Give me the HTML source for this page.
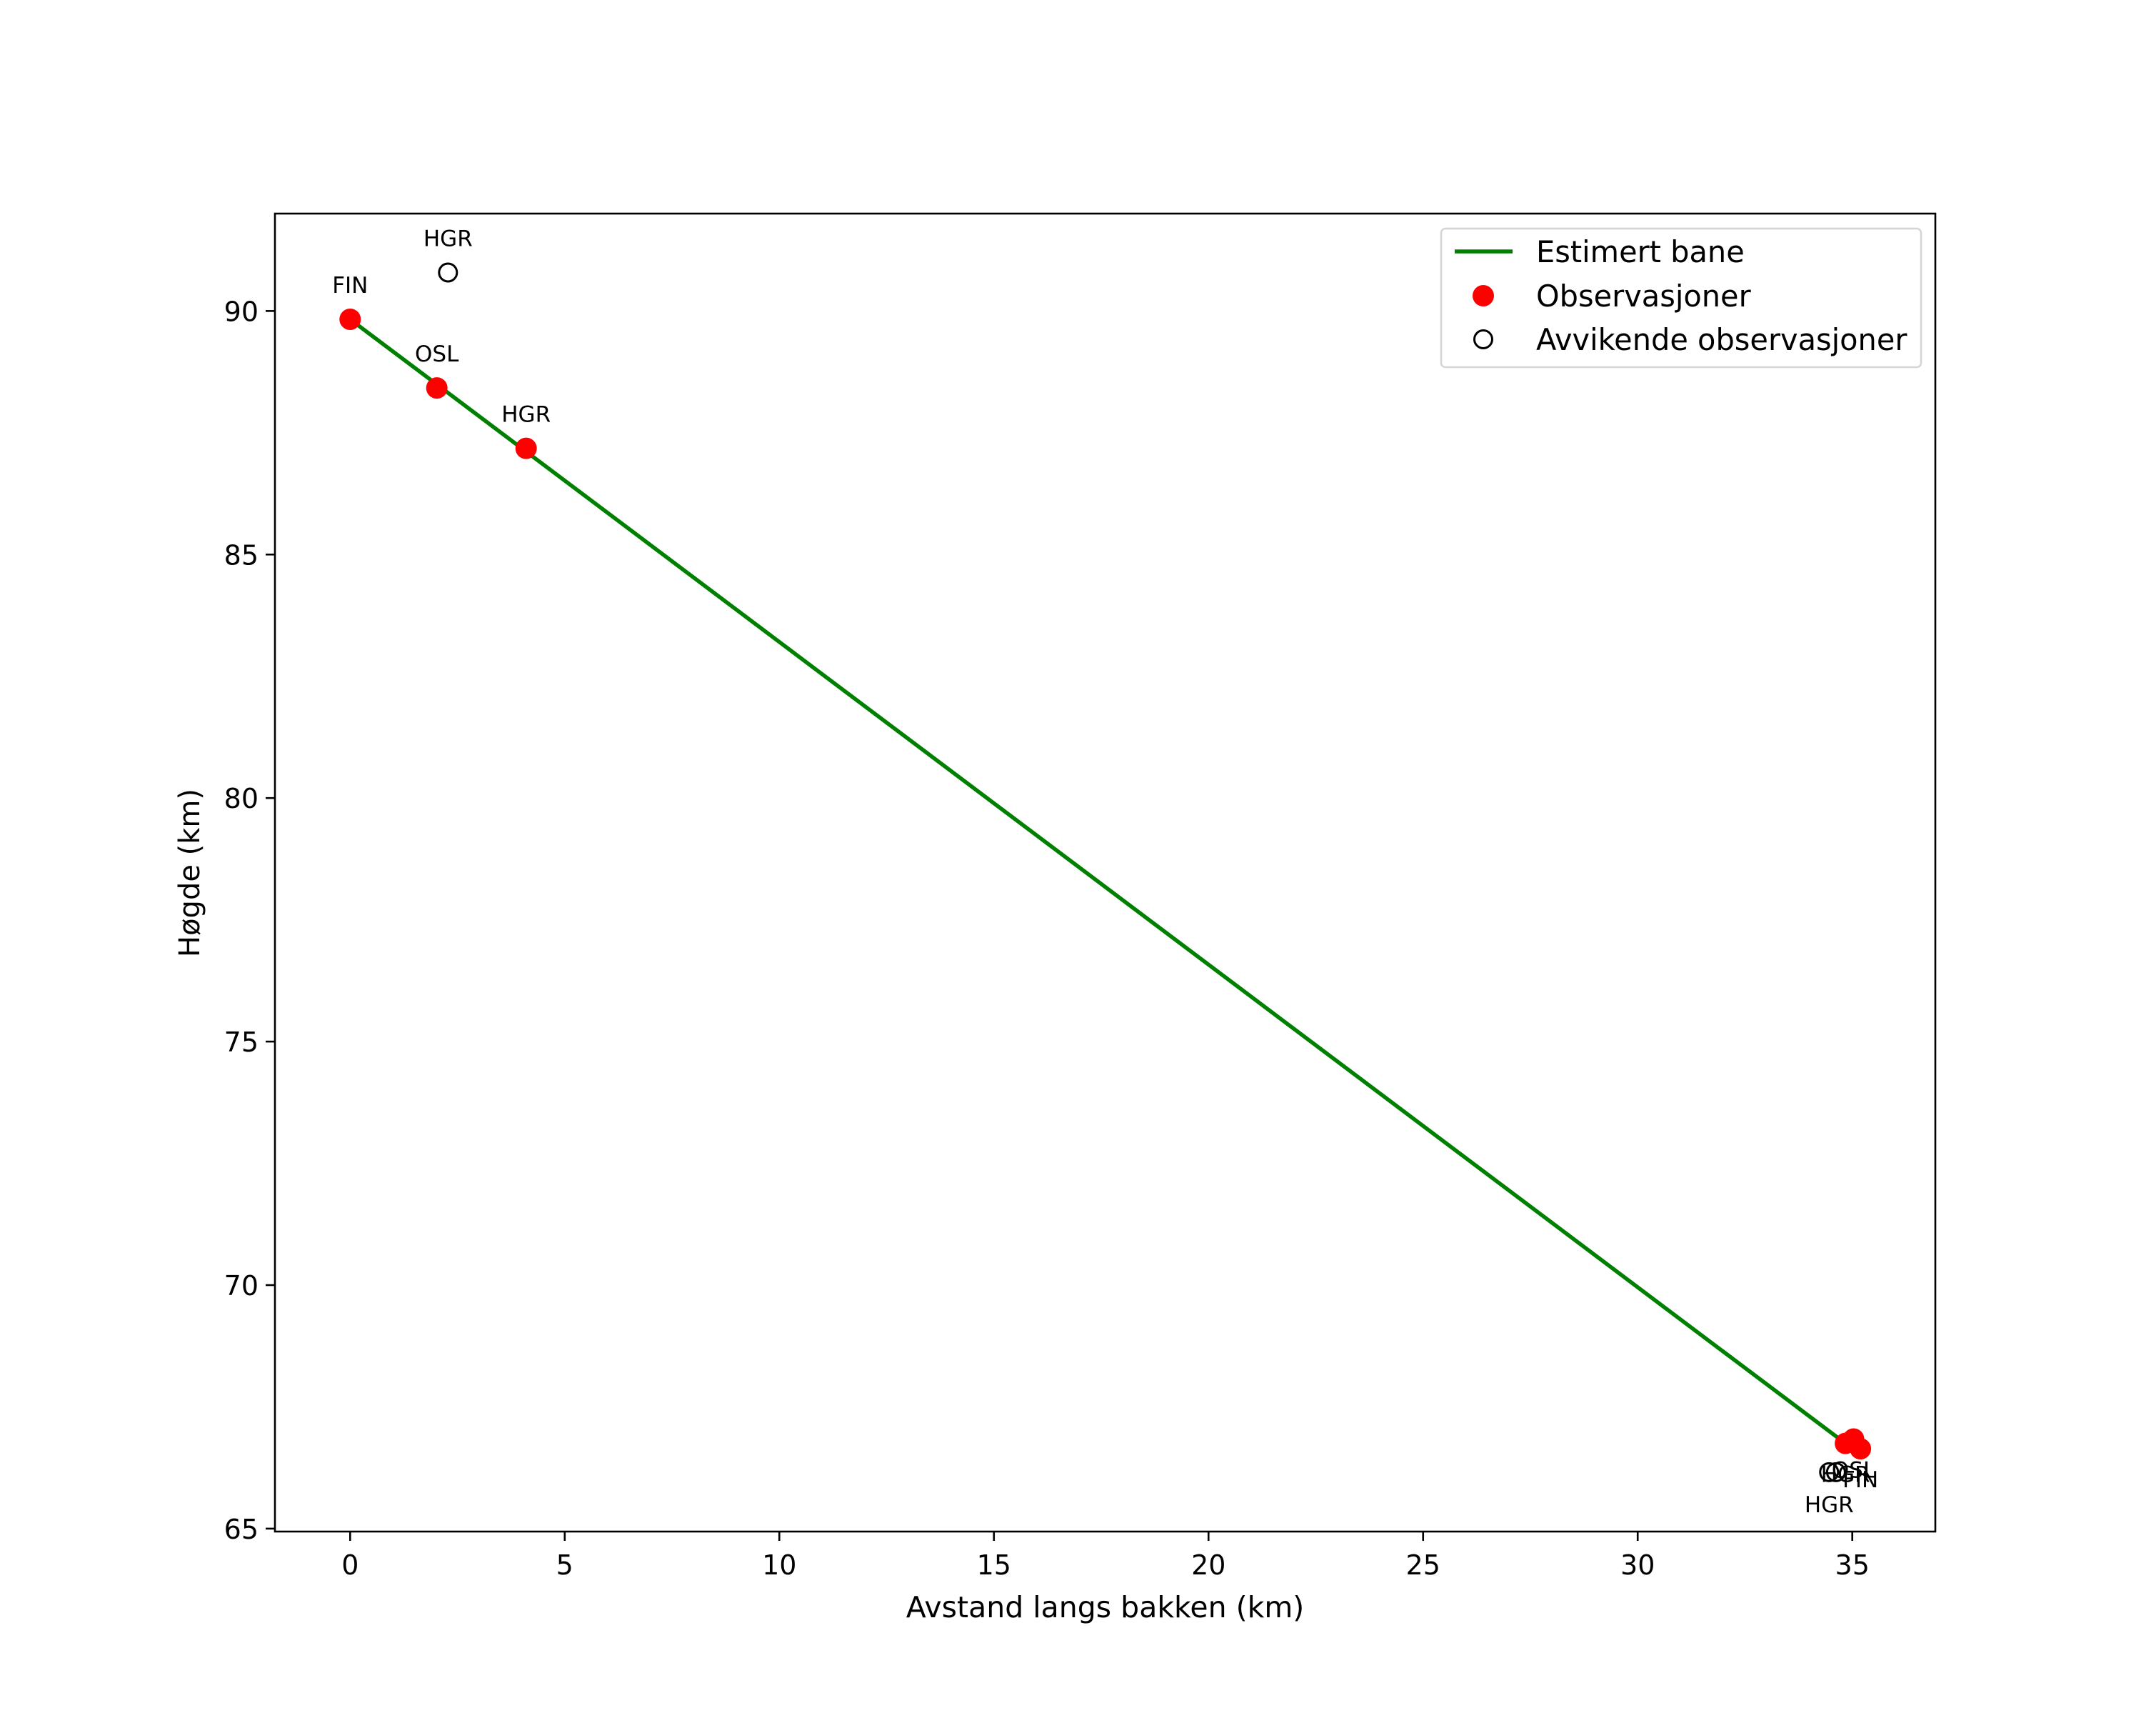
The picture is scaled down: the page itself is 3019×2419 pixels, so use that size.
<!DOCTYPE html>
<html><head><meta charset="utf-8"><style>
html,body{margin:0;padding:0;background:#fff;}
svg{display:block;font-family:"DejaVu Sans","Liberation Sans",sans-serif;}
</style></head><body>
<svg id="chart" width="3019" height="2419" viewBox="0 0 3019 2419" xmlns="http://www.w3.org/2000/svg">
<rect width="3019" height="2419" fill="#fff"/>
</svg>
<script>
const xTicks=[0,5,10,15,20,25,30,35];
const yTicks=[65,70,75,80,85,90];
const lineX=[0,34.84];
const lineY=[89.83,66.75];
const obsX=[0,2.02,4.10,34.84,35.03,35.19];
const obsY=[89.83,88.42,87.18,66.75,66.84,66.64];
const obsLabels=["FIN","OSL","HGR","HGR","OSL","FIN"];
const obsLabelBelow=[false,false,false,true,true,true];
const outX=[2.28,34.46,34.62];
const outY=[90.79,66.16,66.16];
const outLabels=["HGR","HGR",""];
const outLabelBelow=[false,true,true];

const L=385,R=2710,T=299,B=2144;
const xmin=-1.752,xmax=36.935,ymin=64.94,ymax=92.0;
const sx=v=>L+(v-xmin)/(xmax-xmin)*(R-L);
const sy=v=>B-(v-ymin)/(ymax-ymin)*(B-T);
const svg=document.getElementById('chart');
const NS='http://www.w3.org/2000/svg';
function mk(tag,attrs,parent){const e=document.createElementNS(NS,tag);for(const k in attrs)e.setAttribute(k,attrs[k]);(parent||svg).appendChild(e);return e;}

xTicks.forEach(t=>{
  const g=mk('g',{});
  
  
  mk('line',{x1:sx(t),x2:sx(t),y1:B,y2:B+13,stroke:'#000','stroke-width':2.6},g);
  const tx=mk('text',{x:sx(t),y:B+60,'font-size':38,'text-anchor':'middle',fill:'#000'},g);
  tx.textContent=t;
});
yTicks.forEach(t=>{
  const g=mk('g',{});
  
  
  mk('line',{x1:L-13,x2:L,y1:sy(t),y2:sy(t),stroke:'#000','stroke-width':2.6},g);
  const tx=mk('text',{x:L-23,y:sy(t)+14,'font-size':38,'text-anchor':'end',fill:'#000'},g);
  tx.textContent=t;
});

const ln=mk('polyline',{points:lineX.map((x,i)=>sx(x)+','+sy(lineY[i])).join(' '),fill:'none',stroke:'#008000','stroke-width':5.5});



obsX.forEach((x,i)=>{
  const c=mk('circle',{cx:sx(x),cy:sy(obsY[i]),r:15,fill:'#ff0000'});
  
  
});
outX.forEach((x,i)=>{
  const c=mk('circle',{cx:sx(x),cy:sy(outY[i]),r:12.5,fill:'none',stroke:'#000','stroke-width':3});
  
  
});
obsX.forEach((x,i)=>{
  const t=mk('text',{x:sx(x),y:sy(obsY[i])+(obsLabelBelow[i]?54:-37),'font-size':31,'text-anchor':'middle',fill:'#000'});
  t.textContent=obsLabels[i];
  
  
});
outX.forEach((x,i)=>{
  if(!outLabels[i])return;
  const t=mk('text',{x:sx(x),y:sy(outY[i])+(outLabelBelow[i]?56:-37),'font-size':31,'text-anchor':'middle',fill:'#000'});
  t.textContent=outLabels[i];
  
  
});

const fr=mk('rect',{x:L,y:T,width:R-L,height:B-T,fill:'none',stroke:'#000','stroke-width':2.6});



const xt=mk('text',{x:(L+R)/2,y:2264,'font-size':41,'text-anchor':'middle',fill:'#000'});
xt.textContent='Avstand langs bakken (km)';


const yt=mk('text',{x:0,y:0,'font-size':40,'text-anchor':'middle',fill:'#000',transform:'translate(279,1222) rotate(-90)'});
yt.textContent='Høgde (km)';



const lg=mk('g',{});


mk('rect',{x:2018,y:320,width:672,height:194,rx:6,fill:'#fff',stroke:'#d5d5d5','stroke-width':2.6},lg);
const rows=[352,414,475];
const names=['Estimert bane','Observasjoner','Avvikende observasjoner'];
mk('line',{x1:2037,x2:2118,y1:rows[0],y2:rows[0],stroke:'#008000','stroke-width':5.5},lg);
mk('circle',{cx:2077,cy:rows[1],r:15,fill:'#ff0000'},lg);
mk('circle',{cx:2077,cy:rows[2],r:12.5,fill:'none',stroke:'#000','stroke-width':3},lg);
names.forEach((n,i)=>{
  const t=mk('text',{x:2151,y:rows[i]+15,'font-size':41.5,fill:'#000'},lg);
  t.textContent=n;
  
  
});
</script>
</body></html>
